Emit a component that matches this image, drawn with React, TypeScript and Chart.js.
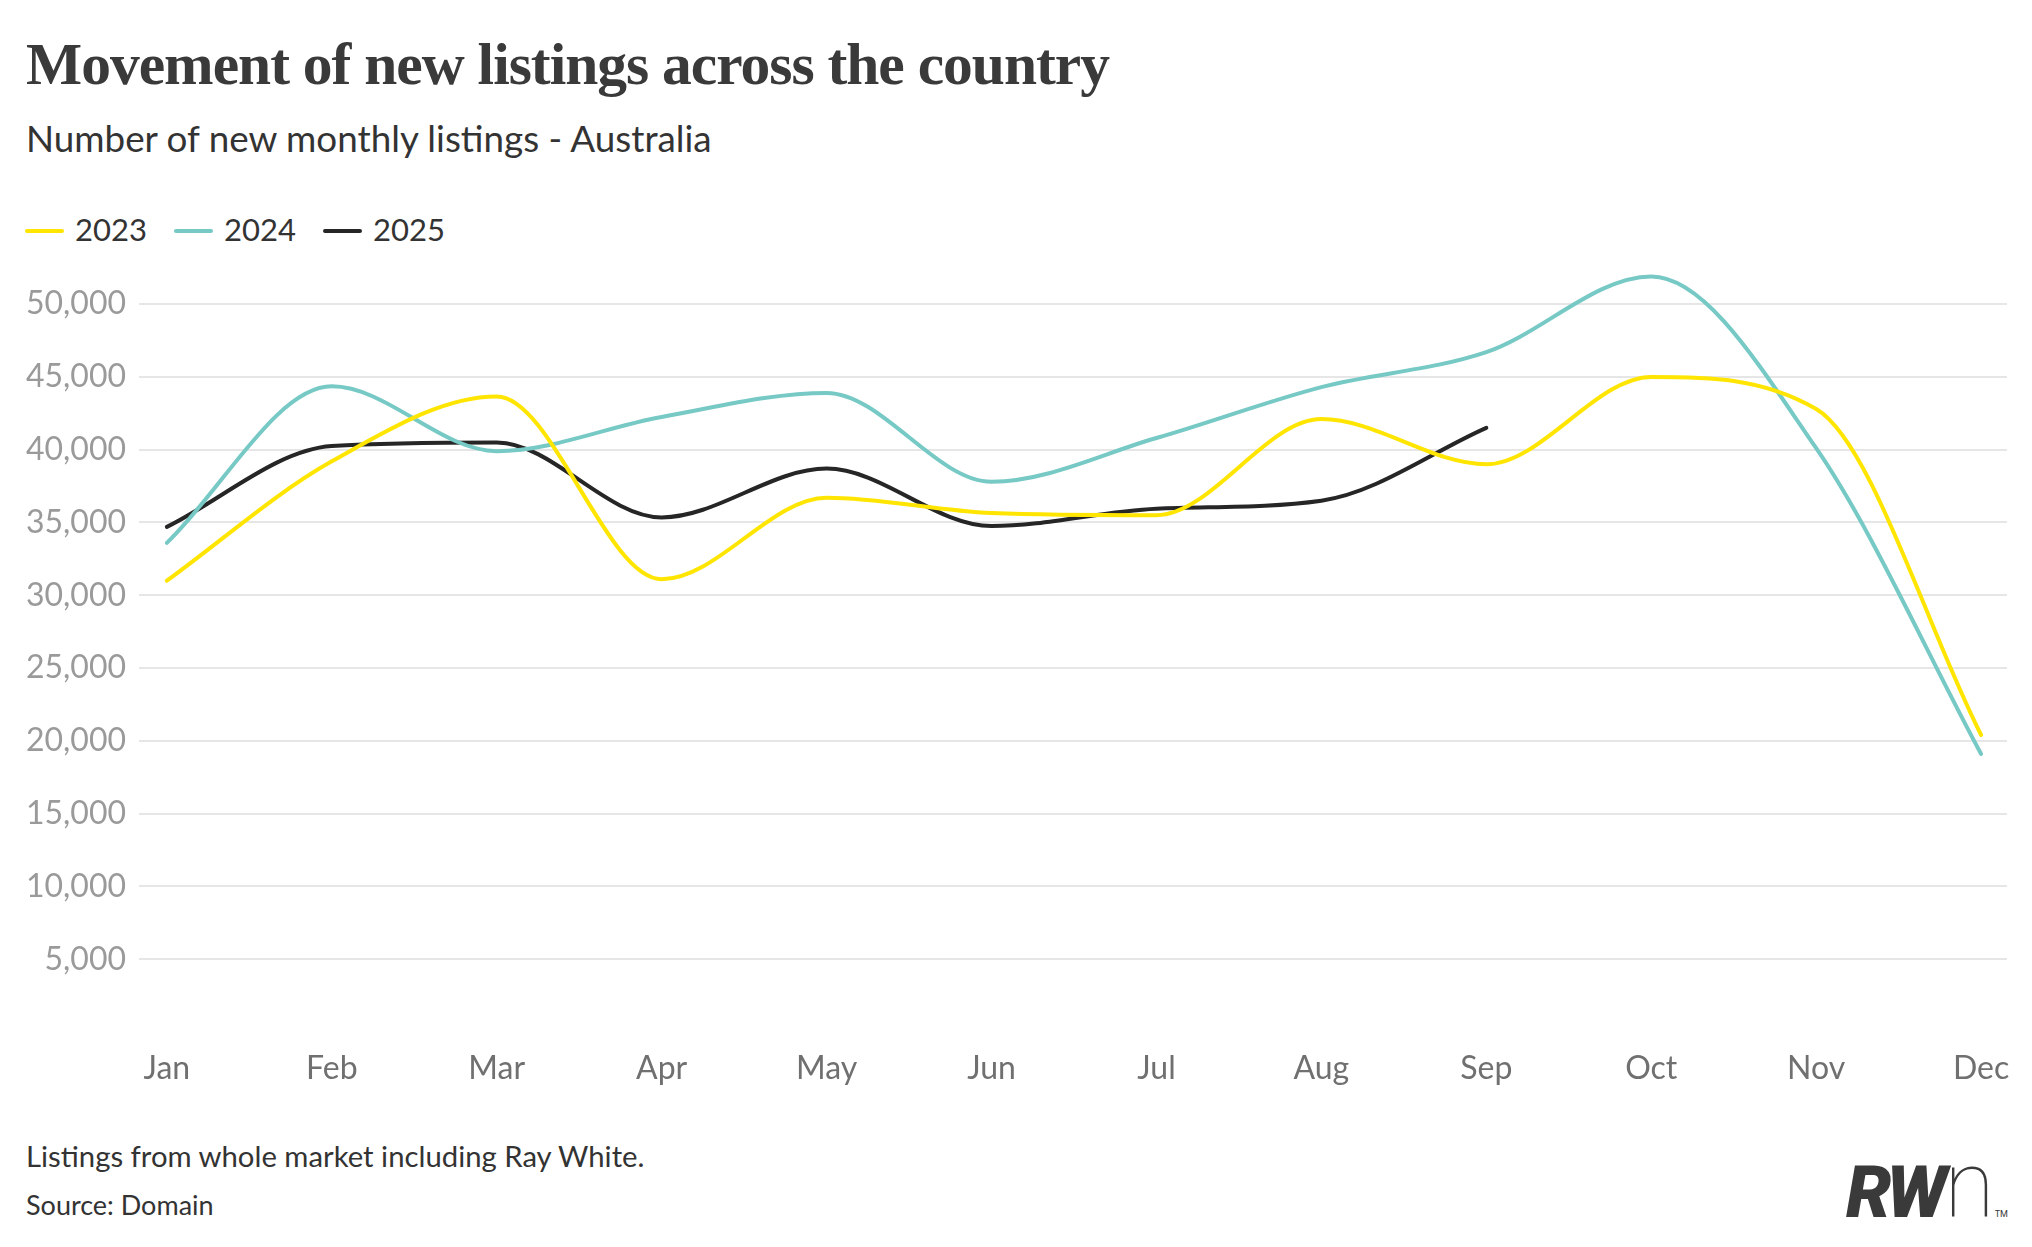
import React, { useEffect, useRef } from "react";
import { Chart, registerables } from "chart.js";

Chart.register(...registerables);

const months = ["Jan", "Feb", "Mar", "Apr", "May", "Jun", "Jul", "Aug", "Sep", "Oct", "Nov", "Dec"];
const series2023 = [31000, 39200, 43650, 31100, 36700, 35650, 35500, 42100, 39000, 45000, 42800, 20400];
const series2024 = [33600, 44350, 39900, 42250, 43900, 37800, 40800, 44300, 46700, 51900, 40100, 19100];
const series2025 = [34700, 40250, 40500, 35350, 38700, 34750, 35950, 36500, 41500];
const yTicks = [5000, 10000, 15000, 20000, 25000, 30000, 35000, 40000, 45000, 50000];
const seriesNames = ["2023", "2024", "2025"];
const seriesColors = ["#FFE500", "#76C9C4", "#262626"];

const toPoints = (arr: number[]) => arr.map((v, i) => ({ x: i, y: v }));

export default function App() {
  const canvasRef = useRef<HTMLCanvasElement | null>(null);

  useEffect(() => {
    document.body.style.margin = "0";
    const canvas = canvasRef.current;
    if (!canvas) return;
    const allSeries = [series2023, series2024, series2025];
    const chart = new Chart(canvas, {
      type: "line",
      data: {
        datasets: allSeries.map((s, i) => ({
          label: seriesNames[i],
          data: toPoints(s),
          borderColor: seriesColors[i],
          backgroundColor: seriesColors[i],
          borderWidth: 4,
          pointRadius: 0,
          pointHoverRadius: 0,
          cubicInterpolationMode: "monotone" as const,
          borderCapStyle: "round" as const,
          borderJoinStyle: "round" as const,
          fill: false,
          clip: false as any,
        })),
      },
      options: {
        responsive: false,
        animation: false,
        devicePixelRatio: 1,
        layout: { padding: { top: 35, right: 25, left: 0, bottom: 0 } },
        plugins: {
          legend: { display: false },
          title: { display: false },
          tooltip: { enabled: false },
        },
        scales: {
          x: {
            type: "linear",
            min: -0.169,
            max: 11.157,
            afterBuildTicks: (scale: any) => {
              scale.ticks = months.map((_, i) => ({ value: i }));
            },
            afterFit: (scale: any) => {
              scale.height = 78;
            },
            grid: { display: false, drawTicks: false },
            border: { display: false },
            ticks: {
              autoSkip: false,
              maxRotation: 0,
              padding: 17,
              color: "#707070",
              font: { family: "Lato", size: 32 },
              callback: (v: any) => months[Math.round(Number(v))] ?? "",
            },
          },
          y: {
            type: "linear",
            min: 0,
            max: 52000,
            afterBuildTicks: (scale: any) => {
              scale.ticks = yTicks.map((v) => ({ value: v }));
            },
            afterFit: (scale: any) => {
              scale.width = 139;
            },
            grid: { color: "#E6E6E6", lineWidth: 2, drawTicks: false },
            border: { display: false },
            ticks: {
              padding: 13,
              color: "#9A9A9A",
              font: { family: "Lato", size: 32 },
              callback: (v: any) => Number(v).toLocaleString("en-US"),
            },
          },
        },
      },
    });
    return () => chart.destroy();
  }, []);

  return (
    <div
      style={{
        position: "relative",
        width: 2032,
        height: 1247,
        background: "#fff",
        overflow: "hidden",
        fontFamily: "Lato, sans-serif",
      }}
    >
      <div
        style={{
          position: "absolute",
          left: 26,
          top: 35,
          fontFamily: "'Liberation Serif', serif",
          fontWeight: 700,
          fontSize: 59.5,
          lineHeight: 1,
          letterSpacing: -1,
          color: "#3A3A3A",
          whiteSpace: "nowrap",
        }}
      >
        Movement of new listings across the country
      </div>
      <div
        style={{
          position: "absolute",
          left: 26,
          top: 120,
          fontSize: 36.8,
          lineHeight: 1,
          color: "#333",
          whiteSpace: "nowrap",
        }}
      >
        Number of new monthly listings - Australia
      </div>
      {seriesNames.map((name, i) => (
        <React.Fragment key={name}>
          <div
            style={{
              position: "absolute",
              left: 25 + i * 149,
              top: 229,
              width: 39,
              height: 4,
              borderRadius: 2,
              background: seriesColors[i],
            }}
          />
          <div
            style={{
              position: "absolute",
              left: 75 + i * 149,
              top: 214,
              fontSize: 31,
              lineHeight: 1,
              color: "#333",
              whiteSpace: "nowrap",
            }}
          >
            {name}
          </div>
        </React.Fragment>
      ))}
      <canvas
        ref={canvasRef}
        width={2032}
        height={870}
        style={{ position: "absolute", left: 0, top: 240, width: 2032, height: 870 }}
      />
      <div
        style={{
          position: "absolute",
          left: 26,
          top: 1141,
          fontSize: 29.3,
          lineHeight: 1,
          color: "#333",
          whiteSpace: "nowrap",
        }}
      >
        Listings from whole market including Ray White.
      </div>
      <div
        style={{
          position: "absolute",
          left: 26,
          top: 1191,
          fontSize: 27,
          lineHeight: 1,
          color: "#333",
          whiteSpace: "nowrap",
        }}
      >
        Source: Domain
      </div>
      <div
        style={{
          position: "absolute",
          left: 1846,
          top: 1140,
          whiteSpace: "nowrap",
          color: "#3A3A3A",
          fontFamily: "Roboto, sans-serif",
          lineHeight: 1,
        }}
      >
        <span style={{ fontSize: 72, fontWeight: 900, fontStyle: "italic", letterSpacing: -5 }}>RW</span>
        <span style={{ fontSize: 92, fontWeight: 100, marginLeft: 2 }}>n</span>
        <span style={{ fontSize: 9, marginLeft: 0 }}>TM</span>
      </div>
    </div>
  );
}
